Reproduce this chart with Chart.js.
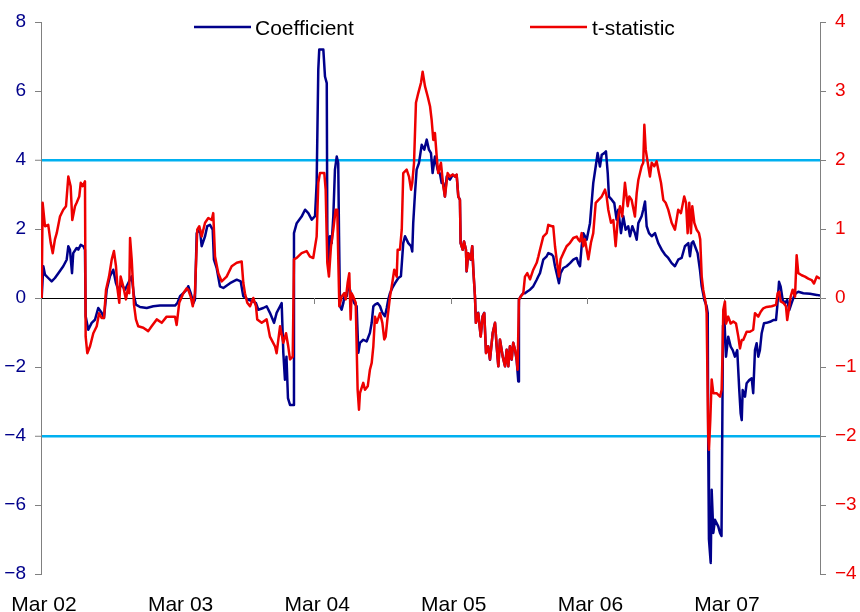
<!DOCTYPE html>
<html><head><meta charset="utf-8">
<script src="https://cdn.jsdelivr.net/npm/chart.js@4.4.0/dist/chart.umd.min.js"></script>
<style>html,body{margin:0;padding:0;background:#fff}#wrap{width:860px;height:612px}</style>
</head><body><div id="wrap"><canvas id="c" width="860" height="612"></canvas></div>
<script>
// x values: years since March 2002
const xTickLabels = ['Mar 02','Mar 03','Mar 04','Mar 05','Mar 06','Mar 07'];
const seriesNames = ['Coefficient','t-statistic'];

const coefX = [0.005,0.017,0.029,0.053,0.078,0.102,0.127,0.163,0.188,0.200,
0.212,0.227,0.236,0.261,0.273,0.291,0.310,0.322,0.327,0.346,
0.371,0.395,0.419,0.444,0.461,0.481,0.505,0.529,0.549,0.566,
0.591,0.615,0.639,0.664,0.681,0.695,0.725,0.774,0.822,0.871,
0.920,0.981,0.998,1.018,1.042,1.067,1.078,1.096,1.115,1.127,
1.140,1.164,1.176,1.201,1.217,1.237,1.257,1.266,1.286,1.310,
1.335,1.384,1.433,1.462,1.481,1.518,1.554,1.574,1.591,1.627,
1.652,1.676,1.706,1.725,1.750,1.762,1.774,1.786,1.797,1.808,
1.823,1.845,1.852,1.872,1.908,1.933,1.957,1.982,2.006,2.018,
2.030,2.037,2.067,2.079,2.092,2.096,2.103,2.116,2.128,2.140,
2.152,2.165,2.176,2.182,2.189,2.201,2.213,2.225,2.238,2.250,
2.262,2.274,2.294,2.311,2.323,2.335,2.359,2.384,2.408,2.421,
2.433,2.445,2.465,2.482,2.499,2.518,2.531,2.542,2.555,2.572,
2.592,2.616,2.635,2.652,2.665,2.689,2.709,2.718,2.725,2.738,
2.750,2.767,2.787,2.806,2.824,2.840,2.855,2.867,2.884,2.904,
2.921,2.933,2.945,2.957,2.970,2.994,3.014,3.031,3.043,3.055,
3.067,3.072,3.087,3.097,3.111,3.116,3.128,3.146,3.157,3.165,
3.177,3.184,3.201,3.219,3.233,3.245,3.258,3.274,3.287,3.307,
3.324,3.336,3.348,3.360,3.380,3.397,3.409,3.421,3.433,3.446,
3.457,3.470,3.482,3.494,3.499,3.512,3.531,3.543,3.560,3.580,
3.604,3.629,3.641,3.653,3.677,3.702,3.714,3.739,3.750,3.763,
3.775,3.792,3.804,3.824,3.848,3.873,3.897,3.922,3.933,3.946,
3.958,3.970,3.995,4.019,4.043,4.061,4.075,4.092,4.105,4.124,
4.136,4.149,4.158,4.178,4.197,4.214,4.226,4.246,4.263,4.280,
4.299,4.312,4.329,4.348,4.361,4.373,4.397,4.409,4.422,4.434,
4.451,4.471,4.495,4.519,4.544,4.568,4.592,4.617,4.641,4.665,
4.690,4.714,4.739,4.751,4.763,4.775,4.788,4.807,4.824,4.837,
4.856,4.873,4.881,4.885,4.890,4.903,4.910,4.922,4.934,4.958,
4.971,4.982,4.993,5.000,5.015,5.031,5.049,5.064,5.080,5.097,
5.112,5.122,5.130,5.137,5.154,5.166,5.185,5.203,5.214,5.227,
5.239,5.251,5.263,5.276,5.293,5.312,5.337,5.361,5.381,5.390,
5.403,5.415,5.430,5.446,5.463,5.478,5.495,5.512,5.527,5.544,
5.581,5.630,5.679,5.703];

const coefY = [0.00,0.92,0.68,0.58,0.48,0.58,0.72,0.92,1.11,1.50,
1.40,0.72,1.30,1.45,1.40,1.54,1.50,1.40,-0.53,-0.92,
-0.72,-0.63,-0.29,-0.43,-0.58,0.24,0.63,0.82,0.43,0.24,
0.39,0.24,0.43,0.63,0.05,-0.19,-0.26,-0.29,-0.24,-0.22,
-0.22,-0.22,-0.15,0.05,0.14,0.24,0.34,0.14,-0.15,-0.05,
1.88,1.98,1.50,1.79,2.08,2.12,1.98,1.11,0.87,0.34,
0.29,0.43,0.53,0.48,0.05,-0.05,-0.10,-0.15,-0.34,-0.29,
-0.24,-0.43,-0.72,-0.43,-0.24,-0.15,-1.59,-2.37,-1.70,-2.90,
-3.10,-3.10,1.88,2.17,2.36,2.56,2.46,2.27,2.37,3.33,
6.62,7.20,7.20,6.42,6.23,1.98,1.01,1.79,1.59,2.37,
3.72,4.10,3.91,1.79,-0.24,-0.34,-0.15,0.14,0.05,0.34,
0.24,0.05,-0.15,-0.24,-1.59,-1.30,-1.21,-1.26,-1.01,-0.72,
-0.24,-0.19,-0.15,-0.24,-0.43,-0.53,-0.29,-0.05,0.14,0.29,
0.43,0.58,0.63,1.59,1.79,1.59,1.50,1.35,2.17,3.04,
3.72,3.91,4.44,4.30,4.59,4.30,4.20,3.62,4.10,3.72,
3.60,3.33,3.33,2.94,3.52,3.43,3.57,3.52,3.57,2.94,
2.85,1.59,1.40,1.64,1.40,0.77,1.30,1.11,1.50,0.82,
0.05,-0.72,-0.43,-1.11,-0.53,-0.43,-1.59,-1.40,-1.79,-1.01,
-0.72,-1.40,-1.98,-1.21,-1.69,-1.98,-1.50,-1.98,-1.40,-1.79,
-1.30,-1.50,-1.79,-2.42,-0.05,0.05,0.14,0.14,0.19,0.24,
0.34,0.53,0.63,0.72,1.11,1.21,1.30,1.26,1.21,0.92,
0.72,0.43,0.72,0.87,0.92,1.01,1.11,1.16,1.01,0.92,
1.50,1.88,1.69,2.17,3.33,3.81,4.20,3.81,4.15,4.20,
4.25,3.62,2.94,2.85,2.75,2.27,2.56,1.88,2.37,1.98,
2.08,1.79,2.08,1.88,1.69,2.17,2.37,2.56,2.80,2.08,
1.88,1.79,1.88,1.59,1.40,1.26,1.16,1.01,0.92,1.11,
1.16,1.50,1.59,1.21,1.59,1.64,1.50,1.30,0.82,0.34,
-0.05,-0.24,-0.43,-4.40,-7.00,-7.68,-5.56,-6.81,-6.43,-6.62,
-6.81,-6.90,-0.80,-0.35,-1.70,-1.12,-1.41,-1.51,-1.70,-1.51,
-2.67,-3.34,-3.54,-2.67,-2.86,-2.47,-2.38,-2.33,-2.76,-1.51,
-1.31,-1.70,-1.51,-1.02,-0.73,-0.72,-0.69,-0.64,-0.64,-0.25,
0.47,0.33,-0.06,-0.15,-0.06,-0.35,-0.15,0.04,0.14,0.18,
0.14,0.12,0.09,0.07];

const tstatX = [0.005,0.012,0.029,0.053,0.071,0.086,0.102,0.115,0.139,0.163,
0.183,0.200,0.217,0.229,0.249,0.261,0.280,0.291,0.305,0.322,
0.327,0.339,0.359,0.383,0.408,0.425,0.444,0.461,0.476,0.498,
0.518,0.534,0.549,0.561,0.573,0.583,0.602,0.622,0.639,0.646,
0.652,0.664,0.681,0.695,0.712,0.749,0.785,0.810,0.847,0.884,
0.920,0.981,0.993,1.012,1.042,1.067,1.078,1.096,1.111,1.127,
1.144,1.159,1.176,1.201,1.225,1.250,1.261,1.274,1.298,1.323,
1.359,1.396,1.433,1.469,1.481,1.493,1.510,1.530,1.554,1.574,
1.583,1.616,1.652,1.676,1.713,1.725,1.750,1.774,1.794,1.810,
1.823,1.843,1.852,1.872,1.908,1.945,1.969,1.993,2.018,2.030,
2.042,2.074,2.084,2.096,2.108,2.123,2.140,2.157,2.169,2.176,
2.184,2.201,2.220,2.231,2.245,2.257,2.267,2.274,2.286,2.304,
2.318,2.328,2.335,2.359,2.372,2.392,2.408,2.421,2.433,2.445,
2.458,2.482,2.499,2.513,2.523,2.538,2.555,2.572,2.586,2.604,
2.611,2.628,2.641,2.652,2.677,2.694,2.709,2.718,2.731,2.745,
2.762,2.782,2.794,2.811,2.831,2.848,2.860,2.872,2.884,2.897,
2.908,2.928,2.945,2.957,2.977,2.994,3.014,3.031,3.043,3.055,
3.067,3.072,3.087,3.097,3.111,3.116,3.128,3.146,3.157,3.165,
3.177,3.184,3.201,3.219,3.233,3.245,3.258,3.274,3.287,3.307,
3.324,3.336,3.348,3.360,3.380,3.397,3.409,3.421,3.433,3.446,
3.457,3.470,3.482,3.489,3.499,3.512,3.531,3.543,3.560,3.580,
3.604,3.629,3.641,3.653,3.677,3.702,3.714,3.739,3.750,3.763,
3.775,3.792,3.804,3.824,3.848,3.873,3.897,3.922,3.933,3.946,
3.958,3.970,3.982,4.007,4.026,4.043,4.061,4.080,4.105,4.129,
4.141,4.153,4.173,4.190,4.207,4.222,4.239,4.255,4.275,4.295,
4.307,4.324,4.348,4.361,4.373,4.397,4.409,4.417,4.427,4.446,
4.458,4.471,4.490,4.507,4.524,4.539,4.556,4.573,4.592,4.617,
4.641,4.665,4.685,4.709,4.722,4.734,4.746,4.758,4.768,4.783,
4.800,4.817,4.826,4.837,4.848,4.866,4.873,4.881,4.885,4.890,
4.900,4.910,4.922,4.946,4.971,4.983,4.990,4.995,5.007,5.015,
5.031,5.049,5.068,5.088,5.105,5.117,5.130,5.141,5.166,5.190,
5.214,5.227,5.251,5.269,5.288,5.312,5.349,5.381,5.393,5.405,
5.415,5.434,5.454,5.463,5.478,5.488,5.503,5.520,5.532,5.544,
5.569,5.593,5.617,5.642,5.659,5.679,5.703];

const tstatY = [0,1.38,1.04,1.06,0.80,0.65,0.85,0.94,1.18,1.28,
1.33,1.76,1.62,1.13,1.33,1.38,1.47,1.67,1.62,1.69,
-0.56,-0.80,-0.70,-0.51,-0.41,-0.22,-0.29,-0.29,0.12,0.31,
0.56,0.68,0.46,0.12,-0.07,0.31,0.17,-0.02,0.17,0.07,
0.87,0.56,-0.10,-0.31,-0.41,-0.43,-0.48,-0.41,-0.31,-0.36,
-0.27,-0.27,-0.39,-0.07,0.07,0.14,0.12,0.02,-0.12,0.07,
0.99,1.04,0.89,1.09,1.16,1.13,1.23,0.60,0.36,0.24,
0.31,0.46,0.51,0.53,0.22,0.07,-0.07,-0.12,0,-0.12,
-0.31,-0.36,-0.31,-0.56,-0.70,-0.80,-0.41,-0.65,-0.51,-0.70,
-0.89,-0.85,0.56,0.58,0.65,0.68,0.60,0.58,0.89,1.67,
1.81,1.81,1.57,0.51,0.31,0.75,0.99,1.28,1.28,0.60,
-0.12,0.02,0.07,-0.02,0.22,0.36,-0.31,0.07,0.02,-0.07,
-1.33,-1.62,-1.38,-1.23,-1.33,-1.28,-1.04,-0.94,-0.70,-0.27,
-0.36,-0.22,-0.36,-0.60,-0.56,-0.27,0.02,0.22,0.41,0.31,
0.70,0.70,0.99,1.81,1.86,1.76,1.57,1.67,1.96,2.83,
2.97,3.12,3.28,3.07,2.92,2.78,2.58,2.29,2.39,2.05,
1.81,1.96,1.62,1.47,1.81,1.76,1.79,1.76,1.79,1.47,
1.42,0.80,0.70,0.82,0.70,0.39,0.65,0.56,0.75,0.41,
0.02,-0.36,-0.22,-0.56,-0.27,-0.22,-0.80,-0.70,-0.89,-0.51,
-0.36,-0.70,-0.99,-0.60,-0.85,-0.99,-0.75,-0.99,-0.70,-0.89,
-0.65,-0.75,-0.89,-1.04,-0.02,0.02,0.07,0.31,0.36,0.27,
0.41,0.51,0.60,0.70,0.89,0.94,1.06,1.04,1.04,0.75,
0.56,0.31,0.56,0.65,0.75,0.80,0.87,0.89,0.85,0.82,
0.94,0.75,0.85,0.56,0.80,0.94,1.38,1.42,1.47,1.57,
1.47,1.28,1.09,1.13,0.75,1.13,1.33,1.18,1.67,1.33,
1.47,1.42,1.18,1.52,1.71,1.91,1.96,2.51,2.15,1.91,
1.76,1.96,1.91,1.98,1.81,1.67,1.42,1.38,1.28,1.09,
0.99,1.28,1.23,1.47,1.38,0.94,1.38,0.94,1.33,1.09,
0.99,0.94,0.85,0.31,0.12,-0.07,-0.22,-1.47,-2.01,-2.20,
-1.76,-1.18,-1.38,-1.38,-1.43,-1.33,-0.75,-0.17,-0.05,-0.37,
-0.27,-0.37,-0.34,-0.37,-0.56,-0.73,-0.61,-0.61,-0.49,-0.49,
-0.46,-0.22,-0.27,-0.20,-0.15,-0.13,-0.12,-0.10,0.07,0.09,
-0.05,-0.07,-0.12,-0.32,-0.12,0.02,0.12,0.02,0.62,0.36,
0.33,0.31,0.28,0.26,0.21,0.31,0.28];

const FONT = "'Liberation Sans', Arial, sans-serif";
const BLUE = '#00008B';
const RED = '#EE0000';
const CYAN = '#00B0F0';
const GREY = '#808080';

function pts(xs, ys){ const n = Math.min(xs.length, ys.length); const out=[]; for(let i=0;i<n;i++) out.push({x:xs[i], y:ys[i]}); return out; }
function fmt(v){ return v < 0 ? '\u2212' + Math.abs(v) : String(v); }

const extras = {
  id: 'extras',
  beforeDatasetsDraw(chart){
    const ctx = chart.ctx, xs = chart.scales.x, ys = chart.scales.y;
    const y0 = ys.getPixelForValue(0);
    ctx.save();
    ctx.strokeStyle = GREY; ctx.lineWidth = 1;
    for (let i = 0; i < xTickLabels.length; i++){
      const px = Math.round(xs.getPixelForValue(i)) + 0.5;
      ctx.beginPath(); ctx.moveTo(px, y0); ctx.lineTo(px, y0 + 6); ctx.stroke();
    }
    ctx.restore();
  },
  afterDraw(chart){
    const ctx = chart.ctx;
    ctx.save();
    ctx.font = '21px ' + FONT;
    ctx.textBaseline = 'middle';
    ctx.fillStyle = '#000';
    const items = [{x0:194, x1:251, tx:255, c:BLUE, t:seriesNames[0]},
                   {x0:530, x1:587, tx:592, c:RED, t:seriesNames[1]}];
    for (const it of items){
      ctx.strokeStyle = it.c; ctx.lineWidth = 2.5;
      ctx.beginPath(); ctx.moveTo(it.x0, 27); ctx.lineTo(it.x1, 27); ctx.stroke();
      ctx.fillText(it.t, it.tx, 29);
    }
    ctx.restore();
  }
};

Chart.defaults.font.family = FONT;
Chart.defaults.font.size = 20;

new Chart(document.getElementById('c'), {
  type: 'line',
  data: {
    datasets: [
      { label: seriesNames[0], data: pts(coefX, coefY), yAxisID: 'y', borderColor: BLUE, borderWidth: 2.5,
        pointRadius: 0, tension: 0, borderJoinStyle: 'round', order: 1 },
      { label: seriesNames[1], data: pts(tstatX, tstatY), yAxisID: 'y2', borderColor: RED, borderWidth: 2.5,
        pointRadius: 0, tension: 0, borderJoinStyle: 'round', order: 0 }
    ]
  },
  options: {
    responsive: false, animation: false, devicePixelRatio: 1,
    layout: { padding: { top: 22, left: 0, right: 0, bottom: 0 } },
    plugins: { legend: { display: false }, tooltip: { enabled: false } },
    scales: {
      x: {
        type: 'linear', position: 'bottom', min: 0, max: 5.703,
        grid: { display: false }, border: { display: false },
        ticks: { stepSize: 1, includeBounds: false, autoSkip: false, maxRotation: 0, color: '#000', padding: 11,
                 labelOffset: 3, font: { size: 21 }, callback: v => xTickLabels[Math.round(v)] ?? '' },
        afterFit: s => { s.height = 38; s.paddingLeft = 0; s.paddingRight = 0; }
      },
      y: {
        position: 'left', min: -8, max: 8,
        ticks: { stepSize: 2, color: BLUE, padding: 9, font: { size: 19 }, callback: v => fmt(v) },
        grid: {
          color: c => (c.tick && c.tick.value === 0) ? '#000000' : ((c.tick && Math.abs(c.tick.value) === 4) ? CYAN : 'rgba(0,0,0,0)'),
          lineWidth: c => (c.tick && Math.abs(c.tick.value) === 4) ? 2.5 : 1,
          tickColor: GREY, tickWidth: 1, tickLength: 6, drawTicks: true
        },
        border: { display: true, color: GREY, width: 1 },
        afterFit: s => { s.width = 41; }
      },
      y2: {
        position: 'right', min: -4, max: 4,
        ticks: { stepSize: 1, color: RED, padding: 9, font: { size: 19 }, callback: v => fmt(v) },
        grid: { drawOnChartArea: false, tickColor: GREY, tickWidth: 1, tickLength: 6 },
        border: { display: true, color: GREY, width: 1 },
        afterFit: s => { s.width = 40; }
      }
    }
  },
  plugins: [extras]
});
</script>
</body></html>
